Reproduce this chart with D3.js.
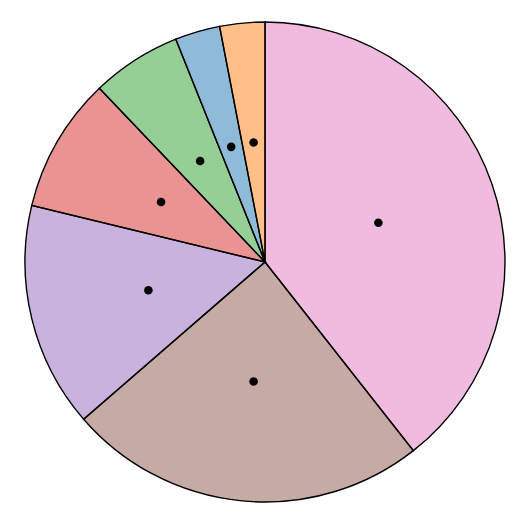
<!DOCTYPE html>
<html><head><meta charset="utf-8">
<script src="https://cdn.jsdelivr.net/npm/d3@7"></script>
<style>body{margin:0;background:#fff}</style>
</head><body>
<svg id="c" width="520" height="520"></svg>
<script>
const categories = ["A","B","C","D","E","F","G"];
const values = [13, 8, 5, 3, 2, 1, 1];
const colors = ["#e377c2","#8c564b","#9467bd","#d62728","#2ca02c","#1f77b4","#ff7f0e"];

const svg = d3.select("#c");
const cx = 265, cy = 262, r = 240;
const g = svg.append("g").attr("transform", `translate(${cx},${cy})`);
const pie = d3.pie().sort(null).value(d => d.v);
const data = pie(categories.map((c,i)=>({c, v: values[i], col: colors[i]})));
const arc = d3.arc().innerRadius(0).outerRadius(r);
const mid = d3.arc().innerRadius(r*0.5).outerRadius(r*0.5);
g.selectAll("path").data(data).join("path")
  .attr("d", arc)
  .attr("fill", d => d.data.col)
  .attr("fill-opacity", 0.5)
  .attr("stroke", "#000")
  .attr("stroke-width", 1.4)
  .attr("stroke-linejoin", "miter");
g.selectAll("circle").data(data).join("circle")
  .attr("cx", d => mid.centroid(d)[0])
  .attr("cy", d => mid.centroid(d)[1])
  .attr("r", 4.3)
  .attr("fill", "#000");
</script>
</body></html>
